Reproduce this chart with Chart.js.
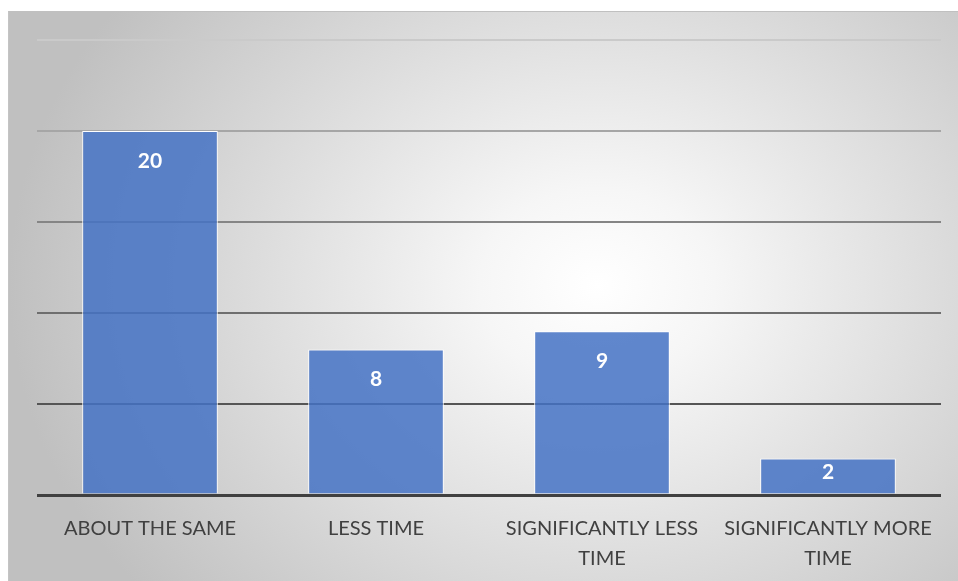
<!DOCTYPE html>
<html>
<head>
<meta charset="utf-8">
<script src="https://cdn.jsdelivr.net/npm/chart.js@4"></script>
<style>
  body { margin: 0; background: #ffffff; }
  #wrap {
    position: absolute; left: 8px; top: 11px; width: 950px; height: 570px;
    border-top: 1px solid #c0c0c0; border-left: 1px solid #c4c4c4; box-sizing: border-box;
    background: radial-gradient(ellipse 62% 85% at 62% 48%, #ffffff 0%, #f6f6f6 20%, #c0c0c0 100%);
  }
  #chart-box { position: absolute; left: 0; top: 0; width: 958px; height: 581px; }
</style>
</head>
<body>
<div id="wrap"></div>
<div id="chart-box"><canvas id="time-chart"></canvas></div>
<script>
// Données du graphique
const categories = [
  'ABOUT THE SAME',
  'LESS TIME',
  ['SIGNIFICANTLY LESS', 'TIME'],
  ['SIGNIFICANTLY MORE', 'TIME']
];
const responses = [20, 8, 9, 2];
const yTicks = [0, 5, 10, 15, 20, 25];

// Couleur des lignes de grille : plus sombres vers le bas
const gridColors = {0: '#404040', 5: '#555555', 10: '#6e6e6e', 15: '#858585', 20: '#a6a6a6', 25: '#cacaca'};

// Étiquettes blanches dans le haut des barres
const barLabels = {
  id: 'barLabels',
  afterDatasetsDraw(chart) {
    const ctx = chart.ctx;
    const meta = chart.getDatasetMeta(0);
    ctx.save();
    ctx.fillStyle = '#ffffff';
    ctx.font = 'bold 21px Lato, "Open Sans", sans-serif';
    ctx.textAlign = 'center';
    ctx.textBaseline = 'middle';
    meta.data.forEach((bar, i) => {
      const h = bar.base - bar.y;
      const offset = Math.min(30, h / 2 - 4);
      ctx.fillText(String(responses[i]), bar.x, bar.y + offset);
    });
    ctx.restore();
  }
};

const ctx = document.getElementById('time-chart').getContext('2d');
const timeChart = new Chart(ctx, {
  type: 'bar',
  data: {
    labels: categories,
    datasets: [{
      data: responses,
      backgroundColor: 'rgba(68, 114, 196, 0.85)',
      borderColor: '#ffffff',
      borderWidth: 1,
      categoryPercentage: 0.6,
      barPercentage: 1
    }]
  },
  options: {
    responsive: true,
    maintainAspectRatio: false,
    animation: false,
    layout: { padding: { left: 37, right: 17, top: 40, bottom: 0 } },
    plugins: {
      legend: { display: false },
      tooltip: { enabled: false }
    },
    scales: {
      x: {
        grid: { display: false, drawTicks: false },
        border: { display: false },
        afterFit: scale => { scale.height = 86; },
        ticks: {
          color: '#404040',
          padding: 19,
          maxRotation: 0,
          autoSkip: false,
          font: { family: 'Lato, "Open Sans", sans-serif', size: 20, lineHeight: 30 / 20 }
        }
      },
      y: {
        min: yTicks[0],
        max: yTicks[yTicks.length - 1],
        afterFit: scale => { scale.width = 0; },
        afterBuildTicks: scale => { scale.ticks = yTicks.map(v => ({ value: v })); },
        border: { display: false },
        grid: {
          drawTicks: false,
          color: c => gridColors[c.tick.value] || '#999999',
          lineWidth: c => (c.tick.value === 0 ? 3 : 2)
        },
        ticks: { display: false }
      }
    }
  },
  plugins: [barLabels]
});
</script>
</body>
</html>
